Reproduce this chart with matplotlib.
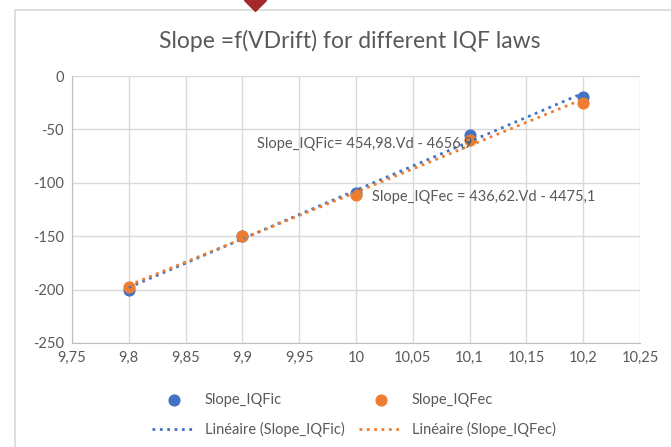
import numpy as np
import matplotlib.pyplot as plt
from matplotlib.patches import Rectangle

vdrift = [9.8, 9.9, 10.0, 10.1, 10.2]
slope_iqfic = [-200, -150, -110, -55, -20]
slope_iqfec = [-198, -150, -111, -60, -25]
xticks = [9.75, 9.8, 9.85, 9.9, 9.95, 10.0, 10.05, 10.1, 10.15, 10.2, 10.25]
yticks = [0, -50, -100, -150, -200, -250]

BLUE = "#4472c4"
ORANGE = "#ed7d31"
GREY = "#595959"

plt.rcParams.update({
    "font.family": ["Lato", "DejaVu Sans"],
    "xtick.color": GREY,
    "ytick.color": GREY,
})

fig = plt.figure(figsize=(6.71, 4.47), dpi=100)
ax = fig.add_axes([72 / 671, 1 - 343 / 447, (640 - 72) / 671, (343 - 76) / 447])

# chart frame and the stray marker at the top
fig.add_artist(Rectangle((15 / 671, -0.05), 1.0, 1 - 10 / 447 + 0.05,
                         transform=fig.transFigure, fill=False,
                         edgecolor="#d9d9d9", linewidth=1.2))
fig.add_artist(plt.Line2D([255 / 671], [1.0], marker="D", markersize=11,
                          color="#a5292a", transform=fig.transFigure))

x = np.array(vdrift)
fit_ic = np.polyfit(x, slope_iqfic, 1)
fit_ec = np.polyfit(x, slope_iqfec, 1)
xs = np.array([vdrift[0], vdrift[-1]])

h_ic = ax.scatter(vdrift, slope_iqfic, s=60, color=BLUE, zorder=3, label="Slope_IQFic")
h_ec = ax.scatter(vdrift, slope_iqfec, s=60, color=ORANGE, zorder=4, label="Slope_IQFec")
l_ic, = ax.plot(xs, np.polyval(fit_ic, xs), ":", color=BLUE, lw=2, zorder=5,
                label="Linéaire (Slope_IQFic)")
l_ec, = ax.plot(xs, np.polyval(fit_ec, xs), ":", color=ORANGE, lw=2, zorder=5,
                label="Linéaire (Slope_IQFec)")

ax.set_xlim(9.75, 10.25)
ax.set_ylim(-250, 0)
ax.set_xticks(xticks)
ax.set_xticklabels([f"{v:g}".replace(".", ",") for v in xticks], fontsize=10.5)
ax.set_yticks(yticks)
ax.set_yticklabels([str(v) for v in yticks], fontsize=10.5)
ax.tick_params(length=0, pad=6)
ax.grid(True, color="#d9d9d9", linewidth=1)
ax.set_axisbelow(True)
for side in ["top", "right"]:
    ax.spines[side].set_visible(False)
for side in ["left", "bottom"]:
    ax.spines[side].set_color("#bfbfbf")

ax.text(10.008, -64, "Slope_IQFic= 454,98.Vd - 4656,9", fontsize=10.5, color=GREY,
        ha="center", va="center", zorder=6)
ax.text(10.112, -113, "Slope_IQFec = 436,62.Vd - 4475,1", fontsize=10.5, color=GREY,
        ha="center", va="center", zorder=6)

fig.text(350 / 671, 1 - 41 / 447, "Slope =f(VDrift) for different IQF laws",
         fontsize=16.5, color=GREY, ha="center", va="center")

fig.legend([h_ic, l_ic, h_ec, l_ec],
           ["Slope_IQFic", "Linéaire (Slope_IQFic)", "Slope_IQFec", "Linéaire (Slope_IQFec)"],
           ncol=2, loc="center", bbox_to_anchor=(354 / 671, 1 - 415 / 447),
           frameon=False, fontsize=10.5, labelcolor=GREY, handlelength=3,
           handletextpad=0.6, columnspacing=1.0, labelspacing=1.0)

fig.savefig("out.png", dpi=100)
